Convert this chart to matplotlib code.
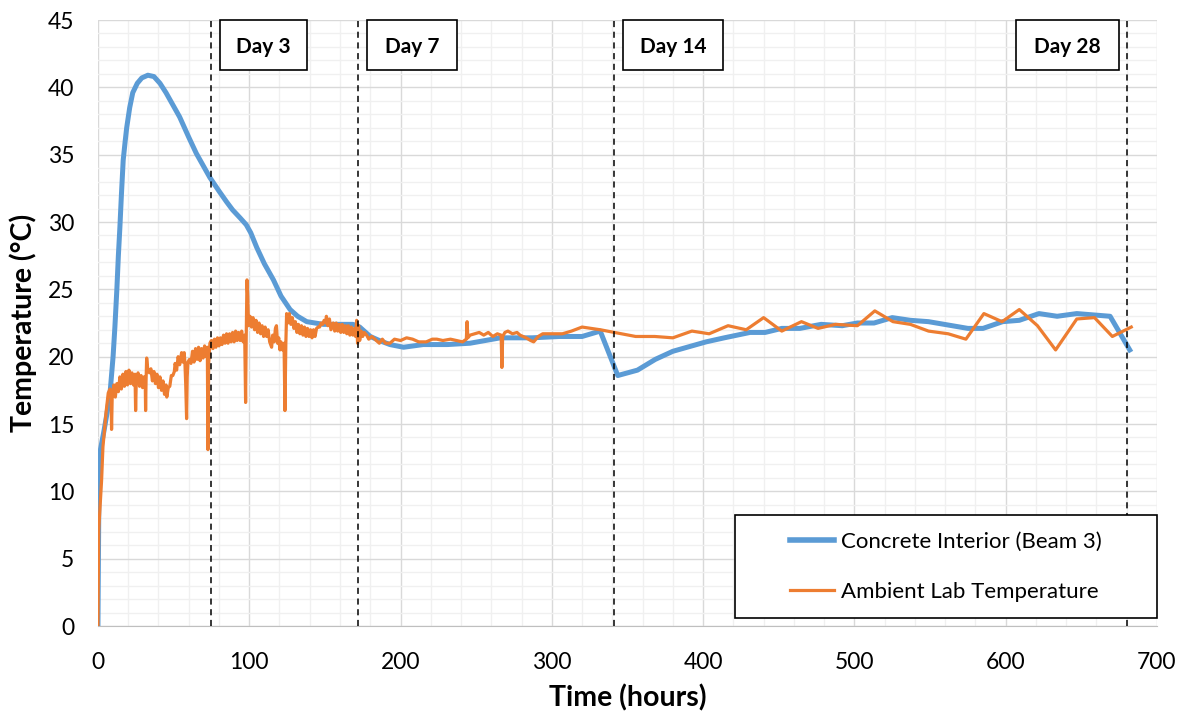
import matplotlib
matplotlib.use("Agg")
import matplotlib.pyplot as plt
from matplotlib.patches import Rectangle
from matplotlib.ticker import MultipleLocator

plt.rcParams['font.family'] = ['Lato', 'DejaVu Sans']

# concrete interior (beam 3): (hours, degC)
concrete = [
    (0, 0), (0.8, 12.6), (2, 13.3), (4, 14.5), (6, 15.8), (8, 17.3), (10, 20.0),
    (11.2, 22.2), (12.5, 25.0), (13.5, 27.5), (14.5, 29.6), (15.5, 32.0), (16.7, 34.6),
    (18, 36.0), (19, 37.0), (21, 38.5), (23, 39.6), (26, 40.3), (29, 40.7), (33, 40.9),
    (37, 40.8), (41, 40.3), (45, 39.6), (50, 38.6), (54, 37.8), (60, 36.3), (65, 35.1),
    (70, 34.1), (74, 33.3), (80, 32.3), (85, 31.5), (89, 30.9), (94, 30.3), (98, 29.8),
    (101, 29.2), (105, 28.1), (110, 26.9), (116, 25.7), (121, 24.5), (127, 23.5),
    (132, 23.0), (138, 22.6), (149, 22.4), (160, 22.4), (168.5, 22.4), (173, 22.2),
    (180, 21.5), (186, 21.2), (193, 20.9), (202, 20.7), (215, 20.9), (231, 20.9),
    (246, 21.0), (256, 21.2), (266, 21.4), (287, 21.4), (305, 21.5), (320, 21.5),
    (332, 21.9), (343.6, 18.6), (356.6, 19.0), (368.4, 19.8), (380, 20.4), (402, 21.1),
    (414, 21.4), (431, 21.8), (441, 21.8), (452, 22.1), (464, 22.1), (478, 22.4),
    (492, 22.3), (502, 22.5), (513, 22.5), (525, 22.9), (537, 22.7), (549, 22.6),
    (575, 22.1), (585, 22.1), (598, 22.6), (609, 22.7), (622, 23.2), (634, 23.0),
    (647, 23.2), (669, 23.0), (682, 20.5),
]

# ambient lab temperature: (hours, degC)
ambient = [
    (0, 0), (0.3, 4.0), (0.5, 7.1), (1.5, 9.0), (2.4, 10.8), (3.3, 13.3), (4.3, 14.5),
    (5.3, 15.8), (6.8, 17.3), (8, 17.6), (8.7, 16.8), (9, 14.6), (9.4, 16.9), (10.5, 17.9),
    (11.5, 17.0), (12.5, 18.0), (13.5, 17.4), (14.5, 18.5), (15.5, 17.6), (16.5, 18.7),
    (17.5, 17.8), (18.5, 18.9), (19.5, 17.9), (20.5, 19.0), (21.5, 18.0), (22.5, 18.8),
    (23.5, 17.9), (24.5, 18.7), (24.9, 16.0), (25.3, 18.0), (26.5, 18.8), (27.5, 17.8),
    (28.5, 18.6), (29.5, 17.7), (30.5, 18.5), (31.3, 17.8), (31.5, 16.0), (31.8, 18.2),
    (32.2, 19.9), (33, 19.0), (34, 18.8), (35, 19.1), (36, 18.2), (37, 18.9), (38, 18.0),
    (39, 18.7), (40, 17.7), (41, 18.5), (42, 17.5), (43, 18.2), (44, 17.2), (45, 17.9),
    (45.5, 17.0), (46.5, 17.7), (47.5, 17.8), (48.5, 18.6), (49.5, 18.6), (50.5, 18.9),
    (51, 19.5), (52, 19.0), (53, 20.0), (54, 19.4), (55.3, 20.3), (56, 19.6), (57, 20.3),
    (57.5, 19.5), (58, 18.0), (58.6, 15.4), (59, 18.5), (59.5, 19.6), (60.5, 19.8),
    (61.5, 19.5), (62.5, 20.4), (63.5, 19.6), (64.5, 20.6), (65.5, 19.8), (66.5, 20.7),
    (67.5, 19.7), (68.5, 20.6), (69.5, 19.9), (70.5, 20.8), (71.5, 20.0), (72.3, 20.7),
    (72.7, 13.1), (73.2, 19.5), (74, 21.0), (75, 21.2), (76, 20.6), (77, 21.3), (78, 20.7),
    (79, 21.4), (80, 20.8), (81, 21.4), (82, 20.9), (83, 21.6), (84, 21.0), (85, 21.7),
    (86, 21.0), (87, 21.7), (88, 21.1), (89, 21.8), (90, 21.1), (91, 21.9), (92, 21.2),
    (93, 21.8), (94, 21.2), (95, 21.9), (96, 21.1), (97, 21.6), (97.6, 16.6), (98, 21.4),
    (98.5, 25.7), (99, 24.5), (99.5, 22.3), (100.5, 23.0), (101.5, 22.2), (102.5, 22.9),
    (103.5, 22.0), (104.5, 22.7), (105.5, 21.8), (106.5, 22.5), (107.5, 21.7), (108.5, 22.3),
    (109.5, 21.5), (110.5, 22.2), (111.5, 21.5), (112.5, 22.0), (113.5, 21.1), (114.8, 20.7),
    (115.5, 21.6), (116.5, 21.1), (117.3, 22.1), (118, 22.3), (118.7, 21.0), (119.5, 21.4),
    (120.3, 20.5), (121, 21.1), (122, 20.5), (123, 21.0), (123.6, 16.0), (124.2, 21.0),
    (124.7, 23.2), (125.5, 22.5), (126.5, 23.2), (127.5, 22.4), (128.5, 22.9), (129.5, 22.1),
    (130.5, 22.6), (131.5, 21.8), (132.5, 22.4), (133.5, 21.7), (134.5, 22.3), (135.5, 21.6),
    (136.5, 22.2), (137.5, 21.5), (138.5, 22.1), (139.5, 21.5), (140.5, 22.0), (141.5, 21.4),
    (142.5, 22.0), (143.5, 21.5), (144.5, 22.1), (145.5, 22.2), (146.5, 22.2), (147.5, 22.5),
    (148.5, 22.4), (149.5, 22.7), (150.5, 22.5), (151, 23.0), (152, 22.3), (153, 22.8),
    (154, 22.0), (155.5, 22.5), (156.5, 21.9), (157.5, 22.5), (158.5, 21.9), (159.5, 22.4),
    (160.5, 21.8), (161.5, 22.4), (162.5, 21.8), (163.5, 22.3), (164.5, 21.7), (165.5, 22.3),
    (166.5, 21.6), (167.5, 22.2), (168.5, 21.6), (169.5, 22.1), (170.3, 21.5), (171, 22.7),
    (171.6, 21.0), (172.3, 22.3), (173, 21.2), (174, 21.9), (175, 21.5), (176, 21.8),
    (177.6, 21.6), (179, 21.3), (181, 21.5), (184, 21.2), (186, 21.0), (188, 21.3),
    (190, 21.0), (193, 21.0), (196, 21.3), (200, 21.2), (204, 21.4), (208, 21.3),
    (212, 21.1), (217, 21.1), (221, 21.3), (224, 21.3), (228, 21.2), (233, 21.3),
    (237, 21.2), (241, 21.1), (243.5, 21.3), (244, 22.6), (244.5, 21.4), (246, 21.6),
    (249, 21.7), (252, 21.8), (255, 21.6), (258, 21.8), (261, 21.5), (264, 21.7),
    (266.5, 21.6), (267, 19.2), (267.5, 21.5), (269, 21.8), (271, 21.9), (274, 21.7),
    (277, 21.8), (279, 21.6), (283, 21.4), (286, 21.2), (288, 21.1), (291, 21.5),
    (294, 21.7), (300, 21.7), (307, 21.7), (313, 21.9), (320, 22.2), (332, 22.0),
    (355.4, 21.5), (368, 21.5), (380, 21.4), (392.6, 21.9), (404, 21.7), (416.5, 22.3),
    (428.5, 22.0), (440, 22.9), (452, 21.9), (465, 22.6), (476, 22.1), (487.5, 22.4),
    (502, 22.3), (513.5, 23.4), (525.5, 22.6), (537, 22.4), (549, 21.9), (562, 21.7),
    (573.7, 21.3), (585.6, 23.2), (597.6, 22.6), (609, 23.5), (621, 22.3), (633, 20.5),
    (647, 22.8), (658.7, 22.9), (670.5, 21.5), (683, 22.2),
]

day_labels = ["Day 3", "Day 7", "Day 14", "Day 28"]
day_lines = [75, 172, 341, 680]          # hours where the dashed markers sit
day_boxes = [(81, 138), (178, 237), (347, 413), (607, 675)]   # box x-span in hours

conc_h, conc_t = zip(*concrete)
amb_h, amb_t = zip(*ambient)

fig = plt.figure(figsize=(11.93, 7.17), dpi=100)
ax = fig.add_axes([0.0821, 0.1269, 0.8877, 0.8452])

ax.plot(conc_h, conc_t, color="#5B9BD5", lw=3.6, label="Concrete Interior (Beam 3)",
        solid_joinstyle="round", zorder=3)
ax.plot(amb_h, amb_t, color="#ED7D31", lw=2.3, label="Ambient Lab Temperature",
        solid_joinstyle="round", zorder=4)

for x in day_lines:
    ax.axvline(x, color="black", lw=1.1, ls=(0, (4, 3)), zorder=5)

for (x0, x1), lab in zip(day_boxes, day_labels):
    ax.add_patch(Rectangle((x0, 41.3), x1 - x0, 3.7, facecolor="white",
                           edgecolor="black", lw=1.2, zorder=6, clip_on=False))
    ax.text((x0 + x1) / 2, 43.0, lab, ha="center", va="center", fontsize=15,
            fontweight="bold", zorder=7)

ax.set_xlim(0, 700)
ax.set_ylim(0, 45)
ax.xaxis.set_major_locator(MultipleLocator(100))
ax.xaxis.set_minor_locator(MultipleLocator(20))
ax.yaxis.set_major_locator(MultipleLocator(5))
ax.yaxis.set_minor_locator(MultipleLocator(1))
ax.grid(which="major", color="#D9D9D9", lw=1.0)
ax.grid(which="minor", color="#F0F0F0", lw=1.0)
ax.set_axisbelow(True)
for s in ["top", "right", "left"]:
    ax.spines[s].set_visible(False)
ax.spines["bottom"].set_color("#BFBFBF")
ax.tick_params(which="both", length=0)
ax.tick_params(axis="y", labelsize=16.5, pad=17)
ax.tick_params(axis="x", labelsize=16.5, pad=19)

ax.set_xlabel("Time (hours)", fontsize=20.5, fontweight="bold", labelpad=8)
ax.set_ylabel("Temperature (°C)", fontsize=20.5, fontweight="bold", labelpad=8)

# legend box
ax.add_patch(Rectangle((0.6015, 0.0132), 0.3985, 0.17, transform=ax.transAxes,
                       facecolor="white", edgecolor="black", lw=1.2, zorder=8,
                       clip_on=False))
leg = ax.legend(loc="center", bbox_to_anchor=(0.8007, 0.0982), frameon=False,
                fontsize=16, handlelength=2.0, handletextpad=0.3, labelspacing=1.35)
leg.set_zorder(9)
leg.get_lines()[0].set_linewidth(4)

plt.savefig("out.png", dpi=100)
plt.close()
